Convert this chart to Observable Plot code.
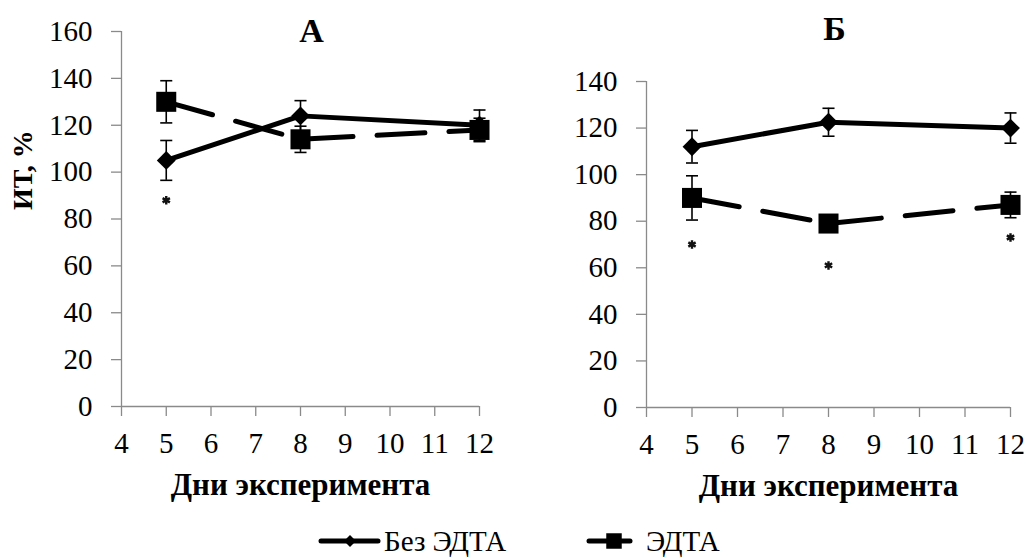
<!DOCTYPE html>
<html>
<head>
<meta charset="utf-8">
<script src="https://cdn.jsdelivr.net/npm/d3@7"></script>
<script src="https://cdn.jsdelivr.net/npm/@observablehq/plot@0.6"></script>
<style>
  html, body { margin: 0; padding: 0; background: #fff; }
  #wrap { position: relative; width: 1027px; height: 558px; overflow: hidden; font-family: 'Liberation Serif', 'Times New Roman', serif; }
  #pa { position: absolute; left: 0; top: 0; }
  #pb { position: absolute; left: 514px; top: 0; }
  #legend { position: absolute; left: 0; top: 500px; width: 1027px; height: 58px; }
  .item { position: absolute; top: 27px; height: 28px; display: flex; align-items: center; font-size: 29px; line-height: 28px; color: #000; font-family: 'Liberation Serif', 'Times New Roman', serif; }
  .item svg { display: block; }
</style>
</head>
<body>
<div id="wrap">
  <div id="pa"></div>
  <div id="pb"></div>
  <div id="legend">
    <div class="item" id="l1" style="left:318px;"></div>
    <div class="item" id="l2" style="left:586px;"></div>
  </div>
</div>
<script>
// ---- data ----
const days = [5, 8, 12];
const xTicks = [4, 5, 6, 7, 8, 9, 10, 11, 12];
const yTicksA = [0, 20, 40, 60, 80, 100, 120, 140, 160];
const yTicksB = [0, 20, 40, 60, 80, 100, 120, 140];

const seriesNames = ["Без ЭДТА", "ЭДТА"];

const noEdtaA = [105, 124, 120];
const noEdtaErrA = [8.5, 6.5, 6.5];
const edtaA = [130, 114, 118];
const edtaErrA = [9, 5.6, 5];

const noEdtaB = [112, 122.5, 120];
const noEdtaErrB = [7, 6, 6.5];
const edtaB = [90, 79, 87];
const edtaErrB = [9.5, 3, 5.5];

const starDaysA = [5];
const starValsA = [88];
const starDaysB = [5, 8, 12];
const starValsB = [70, 61, 73];

const titles = ["А", "Б"];
const xTitle = "Дни эксперимента";
const yTitle = "ИТ, %";

// ---- helpers ----
const FONT = "'Liberation Serif', 'Times New Roman', serif";
const capSymbol = {
  draw(ctx, size) {
    const w = Math.sqrt(size);
    ctx.moveTo(-w / 2, 0);
    ctx.lineTo(w / 2, 0);
  }
};

function rows(vals, errs) {
  return days.map((d, i) => ({day: d, v: vals[i], e: errs[i]}));
}

function panel(o) {
  const no = rows(o.no, o.noErr);
  const ed = rows(o.ed, o.edErr);
  const stars = o.starDays.map((d, i) => ({day: d, v: o.starVals[i]}));
  const all = [...no, ...ed];
  const marks = [
    Plot.ruleX([4], {stroke: "#8a8a8a", strokeWidth: 1.3}),
    Plot.ruleY([0], {stroke: "#8a8a8a", strokeWidth: 1.3}),
    Plot.axisY({ticks: o.yTicks, tickSize: 10, tickPadding: 19, stroke: "#8a8a8a", strokeWidth: 1.3, fill: "#000", label: null, fontSize: 29, fontFamily: FONT}),
    Plot.axisX({ticks: xTicks, tickSize: 10, tickPadding: 16, stroke: "#8a8a8a", strokeWidth: 1.3, fill: "#000", label: null, fontSize: 29, fontFamily: FONT}),
    Plot.line(no, {x: "day", y: "v", stroke: "#000", strokeWidth: 5}),
    Plot.line(ed, {x: "day", y: "v", stroke: "#000", strokeWidth: 5, strokeDasharray: "48,24"}),
    Plot.ruleX(all, {x: "day", y1: d => d.v - d.e, y2: d => d.v + d.e, stroke: "#000", strokeWidth: 1.6}),
    Plot.dot(all, {x: "day", y: d => d.v - d.e, symbol: capSymbol, r: 6.8, stroke: "#000", strokeWidth: 1.6, fill: "none"}),
    Plot.dot(all, {x: "day", y: d => d.v + d.e, symbol: capSymbol, r: 6.8, stroke: "#000", strokeWidth: 1.6, fill: "none"}),
    Plot.dot(no, {x: "day", y: "v", symbol: "diamond2", r: 8.5, fill: "#000", stroke: "none"}),
    Plot.dot(ed, {x: "day", y: "v", symbol: "square", r: 11.3, fill: "#000", stroke: "none"}),
    Plot.dot(stars, {x: "day", y: "v", symbol: "asterisk", r: 4, stroke: "#111", strokeWidth: 2.4}),
    Plot.text([o.title], {text: d => d, frameAnchor: "top", dx: o.titleDx, dy: o.titleDy, fontWeight: "bold", fontSize: 34, fontFamily: FONT, lineAnchor: "middle", fill: "#000"}),
    Plot.text([xTitle], {text: d => d, frameAnchor: "bottom", dy: 79, fontWeight: "bold", fontSize: 31, fontFamily: FONT, lineAnchor: "middle", fill: "#000"})
  ];
  if (o.showY) {
    marks.push(Plot.text([yTitle], {text: d => d, frameAnchor: "left", dx: -98, dy: -9, rotate: -90, fontWeight: "bold", fontSize: 28, fontFamily: FONT, lineAnchor: "middle", fill: "#000"}));
  }
  return Plot.plot({
    width: 513,
    height: 500,
    marginLeft: o.ml,
    marginRight: o.mr,
    marginTop: o.mt,
    marginBottom: o.mb,
    x: {domain: [4, 12], nice: false},
    y: {domain: [0, o.yMax], nice: false},
    style: {fontFamily: FONT, fontSize: "29px", color: "#000", background: "#fff", overflow: "visible"},
    marks
  });
}

document.getElementById("pa").append(panel({
  title: titles[0], no: noEdtaA, noErr: noEdtaErrA, ed: edtaA, edErr: edtaErrA,
  starDays: starDaysA, starVals: starValsA, yMax: 160, yTicks: yTicksA,
  ml: 121, mr: 34, mt: 31, mb: 94, showY: true, titleDx: 11, titleDy: 0
}));
document.getElementById("pb").append(panel({
  title: titles[1], no: noEdtaB, noErr: noEdtaErrB, ed: edtaB, edErr: edtaErrB,
  starDays: starDaysB, starVals: starValsB, yMax: 140, yTicks: yTicksB,
  ml: 132, mr: 17, mt: 81, mb: 93, showY: false, titleDx: 6, titleDy: -52
}));

// ---- legend ----
function swatch(kind) {
  const w = kind === "diamond" ? 64 : 48;
  const svg = d3.create("svg").attr("width", w).attr("height", 26);
  svg.append("line").attr("x1", 3).attr("x2", w - 4).attr("y1", 13).attr("y2", 13)
    .attr("stroke", "#000").attr("stroke-width", 5).attr("stroke-linecap", "round");
  const cx = kind === "diamond" ? 32 : 28;
  if (kind === "diamond") {
    svg.append("path").attr("transform", `translate(${cx},13)`)
      .attr("d", d3.symbol(d3.symbolDiamond2, 90)()).attr("fill", "#000");
  } else {
    svg.append("path").attr("transform", `translate(${cx},13)`)
      .attr("d", d3.symbol(d3.symbolSquare, 240)()).attr("fill", "#000");
  }
  return svg.node();
}
const l1 = document.getElementById("l1");
l1.append(swatch("diamond"));
const t1 = document.createElement("span"); t1.textContent = seriesNames[0]; t1.style.marginLeft = "2px"; l1.append(t1);
const l2 = document.getElementById("l2");
l2.append(swatch("square"));
const t2 = document.createElement("span"); t2.textContent = seriesNames[1]; t2.style.marginLeft = "12px"; l2.append(t2);
</script>
</body>
</html>
